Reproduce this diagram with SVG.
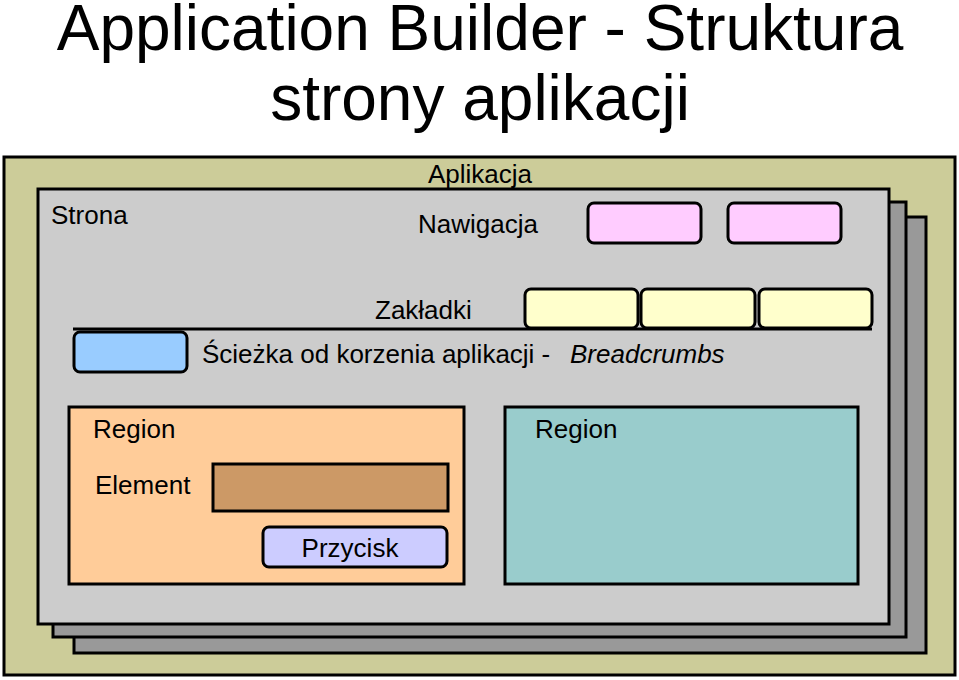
<svg xmlns="http://www.w3.org/2000/svg" width="959" height="680" viewBox="0 0 959 680">
<style>
text{font-family:"Liberation Sans",Arial,sans-serif;fill:#000}
.t{font-size:64px}
.l{font-size:26px}
.b{stroke:#000;stroke-width:3}
</style>
<rect width="959" height="680" fill="#fff"/>
<g id="title">
<text class="t" x="480" y="50" text-anchor="middle">Application Builder - Struktura</text>
<text class="t" x="480" y="120" text-anchor="middle">strony aplikacji</text>
</g>
<g id="aplikacja">
<rect class="b" x="4" y="157" width="951" height="518" fill="#CCCC99"/>
<text class="l" x="480" y="183" text-anchor="middle">Aplikacja</text>
</g>
<g id="page3"><rect class="b" x="74" y="217" width="852" height="436" fill="#999999"/></g>
<g id="page2"><rect class="b" x="53" y="202" width="853" height="435" fill="#999999"/></g>
<g id="strona">
<rect class="b" x="38" y="189" width="851" height="435" fill="#CCCCCC"/>
<text class="l" x="51" y="224">Strona</text>
</g>
<g id="nawigacja">
<text class="l" x="478" y="233" text-anchor="middle">Nawigacja</text>
<rect class="b" x="588" y="203" width="113" height="40" rx="6" fill="#FFCCFF"/>
<rect class="b" x="728" y="203" width="113" height="40" rx="6" fill="#FFCCFF"/>
</g>
<g id="connectors">
<line class="b" x1="73" y1="329" x2="872" y2="329"/>
</g>
<g id="zakladki">
<text class="l" x="375" y="319">Zakładki</text>
<rect class="b" x="525" y="289" width="113" height="39" rx="6" fill="#FFFFCC"/>
<rect class="b" x="641" y="289" width="114" height="39" rx="6" fill="#FFFFCC"/>
<rect class="b" x="759" y="289" width="113" height="39" rx="6" fill="#FFFFCC"/>
</g>
<g id="sciezka">
<rect class="b" x="74" y="332" width="113" height="40" rx="6" fill="#99CCFF"/>
<text class="l" x="202" y="363">Ścieżka od korzenia aplikacji - <tspan x="570" font-style="italic">Breadcrumbs</tspan></text>
</g>
<g id="region1">
<rect class="b" x="69" y="407" width="395" height="177" fill="#FFCC99"/>
<text class="l" x="93" y="438">Region</text>
<text class="l" x="95" y="494">Element</text>
<rect class="b" x="213" y="464" width="235" height="47" fill="#CC9966"/>
<rect class="b" x="263" y="527" width="184" height="40" rx="6" fill="#CCCCFF"/>
<text class="l" x="350" y="557" text-anchor="middle">Przycisk</text>
</g>
<g id="region2">
<rect class="b" x="505" y="407" width="353" height="177" fill="#99CCCC"/>
<text class="l" x="535" y="438">Region</text>
</g>
</svg>
